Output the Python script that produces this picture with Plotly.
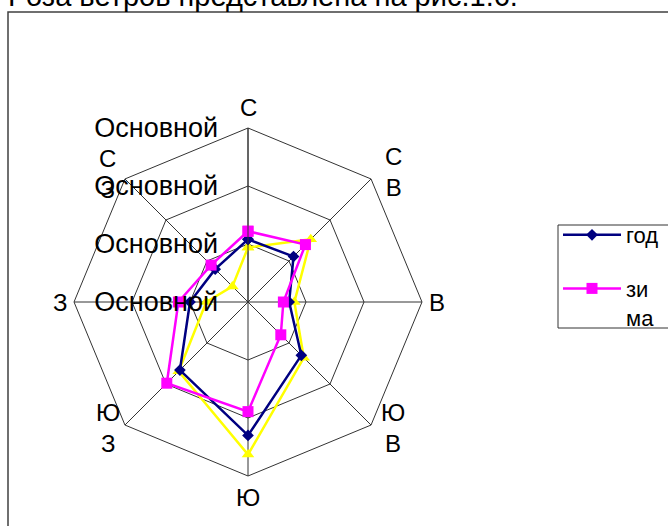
import math
import plotly.graph_objects as go

directions = ["С", "СВ", "В", "ЮВ", "Ю", "ЮЗ", "З", "СЗ"]
direction_labels = ["С", "С<br>В", "В", "Ю<br>В", "Ю", "Ю<br>З", "З", "С<br>З"]

god = [1.08, 1.11, 0.71, 1.30, 2.30, 1.66, 1.00, 0.80]
zima = [1.22, 1.40, 0.61, 0.80, 1.89, 1.98, 1.20, 0.90]
leto = [0.94, 1.53, 0.80, 1.36, 2.63, 1.69, 0.72, 0.38]

radial_ticks = [0, 1, 2, 3]
radial_ticktext = ["Основной", "Основной", "Основной", "Основной"]

title_text = "Роза ветров представлена на рис.1.6."

W, H = 668, 526
FONT = "Liberation Sans, Arial, sans-serif"


def closed(v):
    return list(v) + [v[0]]


fig = go.Figure()
fig.add_trace(go.Scatterpolar(
    r=closed(leto), theta=closed(directions), name="лето", mode="lines+markers",
    line=dict(color="#FFFF00", width=2.5),
    marker=dict(symbol="triangle-up", size=11, color="#FFFF00"),
    showlegend=False, legendgroup="c"))
fig.add_trace(go.Scatterpolar(
    r=closed(god), theta=closed(directions), name="год",
    mode="lines+markers", legendgroup="a",
    line=dict(color="#000080", width=2.5),
    marker=dict(symbol="diamond", size=9, color="#000080")))
fig.add_trace(go.Scatterpolar(
    r=closed(zima), theta=closed(directions), name="зи<br>ма", mode="lines+markers",
    legendgroup="b",
    line=dict(color="#FF00FF", width=2.5),
    marker=dict(symbol="square", size=11, color="#FF00FF")))

cx, cy, R = 248, 302, 174
fig.update_layout(
    width=W, height=H,
    margin=dict(l=0, r=0, t=0, b=0, autoexpand=False),
    paper_bgcolor="white",
    font=dict(family=FONT, color="black"),
    polar=dict(
        domain=dict(x=[(cx - R) / W, (cx + R) / W], y=[(H - cy - R) / H, (H - cy + R) / H]),
        bgcolor="white",
        gridshape="linear",
        angularaxis=dict(
            type="category", categoryarray=directions,
            rotation=90, direction="clockwise",
            showline=True, linecolor="#333333", linewidth=1,
            gridcolor="#333333", gridwidth=1,
            ticks="", showticklabels=False,
        ),
        radialaxis=dict(
            range=[0, 3], angle=90, side="counterclockwise", tickangle=90,
            tickvals=radial_ticks, ticktext=radial_ticktext,
            ticks="outside", ticklen=20, tickcolor="rgba(0,0,0,0)",
            showline=True, linecolor="#333333", linewidth=1,
            gridcolor="#333333", gridwidth=1,
            tickfont=dict(size=27, family=FONT, color="black"),
        ),
    ),
    legend=dict(
        x=558 / W, y=1 - 214 / H, xanchor="left", yanchor="top",
        bgcolor="rgba(0,0,0,0)", borderwidth=0,
        font=dict(size=22, family=FONT, color="black"),
        itemwidth=58, valign="top",
        traceorder="grouped", tracegroupgap=22,
    ),
    showlegend=True,
)

# direction labels placed just outside the outer octagon vertices
label_offsets = [(0, -21), (22, -7), (15, 0), (22, 3), (0, 21), (-17, 3), (-14, 0), (-17, -5)]
for i, (lab, (ox, oy)) in enumerate(zip(direction_labels, label_offsets)):
    ang = math.radians(90 - 45 * i)
    vx = cx + R * math.cos(ang) + ox
    vy = cy - R * math.sin(ang) + oy
    fig.add_annotation(text=lab, xref="paper", yref="paper",
                       x=vx / W, y=1 - vy / H, xanchor="center", yanchor="middle",
                       showarrow=False, font=dict(size=24, family=FONT, color="black"))

# chart area border
fig.add_shape(type="rect", xref="paper", yref="paper",
              x0=8 / W, x1=1.1, y0=-0.1, y1=1 - 12 / H,
              line=dict(color="#404040", width=1.5), fillcolor="rgba(0,0,0,0)", layer="below")
# legend box (runs past the right edge as in the original)
fig.add_shape(type="rect", xref="paper", yref="paper",
              x0=558 / W, x1=1.1, y0=1 - 328 / H, y1=1 - 225 / H,
              line=dict(color="#333333", width=1), fillcolor="white", layer="below")

fig.add_annotation(text=title_text, xref="paper", yref="paper",
                   x=6 / W, y=1 + 4 / H, xanchor="left", yanchor="middle",
                   showarrow=False, font=dict(size=29, family=FONT, color="black"))

fig.write_html("out.html", config={"displayModeBar": False},
               post_script="document.body.style.margin='0';")
